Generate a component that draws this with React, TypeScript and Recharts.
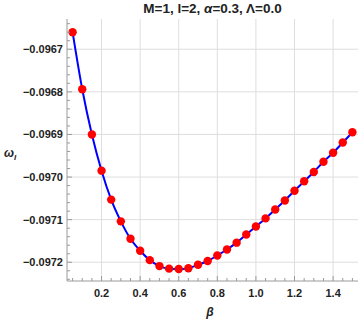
import React from "react";
import { LineChart, Line, XAxis, YAxis, ReferenceLine } from "recharts";

const beta = [0.05, 0.1, 0.15, 0.2, 0.25, 0.3, 0.35, 0.4, 0.45, 0.5, 0.55, 0.6, 0.65, 0.7, 0.75, 0.8, 0.85, 0.9, 0.95, 1.0, 1.05, 1.1, 1.15, 1.2, 1.25, 1.3, 1.35, 1.4, 1.45, 1.5];
const omegaI = [
  -0.09666, -0.096794, -0.0969, -0.096985, -0.097053, -0.097104, -0.097145, -0.097173, -0.097195, -0.097209,
  -0.097215, -0.097216, -0.097214, -0.097206, -0.097197, -0.097184, -0.09717, -0.097154, -0.097135, -0.097116,
  -0.097097, -0.097076, -0.097055, -0.097032, -0.09701, -0.096988, -0.096964, -0.096943, -0.096919, -0.096895,
];

const xMajorTicks = [0.2, 0.4, 0.6, 0.8, 1.0, 1.2, 1.4];
const xTickLabels = ["0.2", "0.4", "0.6", "0.8", "1.0", "1.2", "1.4"];
const xMinorTicks = [0.05, 0.1, 0.15, 0.25, 0.3, 0.35, 0.45, 0.5, 0.55, 0.65, 0.7, 0.75, 0.85, 0.9, 0.95, 1.05, 1.1, 1.15, 1.25, 1.3, 1.35, 1.45, 1.5];

const yMajorTicks = [-0.0967, -0.0968, -0.0969, -0.097, -0.0971, -0.0972];
const yTickLabels = ["\u22120.0967", "\u22120.0968", "\u22120.0969", "\u22120.0970", "\u22120.0971", "\u22120.0972"];
const yMinorTicks = [
  -0.09664, -0.09666, -0.09668, -0.09672, -0.09674, -0.09676, -0.09678, -0.09682, -0.09684, -0.09686, -0.09688,
  -0.09692, -0.09694, -0.09696, -0.09698, -0.09702, -0.09704, -0.09706, -0.09708, -0.09712, -0.09714, -0.09716,
  -0.09718, -0.09722, -0.09724,
];

const xDomain = [0.021, 1.529];
const yDomain = [-0.097244, -0.096629];

const data = beta.map((b, i) => ({ beta: b, w: omegaI[i] }));
const xTicksAll = [...xMinorTicks, ...xMajorTicks].sort((a, b) => a - b);
const yTicksAll = [...yMinorTicks, ...yMajorTicks].sort((a, b) => a - b);

const FRAME = "#9a9a9a";
const GRID = "#dedede";
const FONT = "'Liberation Sans', Arial, sans-serif";

const near = (a: number, b: number) => Math.abs(a - b) < 1e-9;
const xMajorIdx = (v: number) => xMajorTicks.findIndex((m) => near(m, v));
const yMajorIdx = (v: number) => yMajorTicks.findIndex((m) => near(m, v));

const BottomTick = (props: any) => {
  const { x, y, payload } = props;
  const idx = xMajorIdx(payload.value);
  const len = idx >= 0 ? 5 : 3;
  return (
    <g>
      <line x1={x} x2={x} y1={y} y2={y - len} stroke={FRAME} strokeWidth={1} />
      {idx >= 0 && (
        <text x={x} y={y + 16} textAnchor="middle" fontFamily={FONT} fontWeight="bold" fontSize={11} fill="#222">
          {xTickLabels[idx]}
        </text>
      )}
    </g>
  );
};

const TopTick = (props: any) => {
  const { x, y, payload } = props;
  const idx = xMajorIdx(payload.value);
  const len = idx >= 0 ? 5 : 3;
  return <line x1={x} x2={x} y1={y} y2={y + len} stroke={FRAME} strokeWidth={1} />;
};

const LeftTick = (props: any) => {
  const { x, y, payload } = props;
  const idx = yMajorIdx(payload.value);
  const len = idx >= 0 ? 5 : 3;
  return (
    <g>
      <line x1={x} x2={x + len} y1={y} y2={y} stroke={FRAME} strokeWidth={1} />
      {idx >= 0 && (
        <text x={x - 4} y={y + 4} textAnchor="end" fontFamily={FONT} fontWeight="bold" fontSize={11} fill="#222">
          {yTickLabels[idx]}
        </text>
      )}
    </g>
  );
};

const RightTick = (props: any) => {
  const { x, y, payload } = props;
  const idx = yMajorIdx(payload.value);
  const len = idx >= 0 ? 5 : 3;
  return <line x1={x} x2={x - len} y1={y} y2={y} stroke={FRAME} strokeWidth={1} />;
};

const RedDot = (props: any) => {
  const { cx, cy } = props;
  if (cx == null || cy == null) return null;
  return <circle cx={cx} cy={cy} r={4.2} fill="#ff0000" stroke="none" />;
};

export default function App() {
  return (
    <div style={{ position: "absolute", left: 0, top: 0, width: 360, height: 322, background: "#fff" }}>
      <LineChart width={360} height={322} data={data} margin={{ top: 19, right: 2, bottom: 0, left: 0 }}>
        {xMajorTicks.map((v) => (
          <ReferenceLine key={"gx" + v} x={v} stroke={GRID} strokeWidth={1} />
        ))}
        {yMajorTicks.map((v) => (
          <ReferenceLine key={"gy" + v} y={v} stroke={GRID} strokeWidth={1} />
        ))}
        <XAxis
          dataKey="beta"
          type="number"
          domain={xDomain}
          allowDataOverflow
          ticks={xTicksAll}
          interval={0}
          height={41}
          tickSize={0}
          tickMargin={0}
          tickLine={false}
          axisLine={{ stroke: FRAME }}
          tick={<BottomTick />}
        />
        <XAxis
          xAxisId="top"
          orientation="top"
          dataKey="beta"
          type="number"
          domain={xDomain}
          allowDataOverflow
          ticks={xTicksAll}
          interval={0}
          height={0}
          tickSize={0}
          tickMargin={0}
          tickLine={false}
          axisLine={{ stroke: FRAME }}
          tick={<TopTick />}
        />
        <YAxis
          type="number"
          domain={yDomain}
          allowDataOverflow
          ticks={yTicksAll}
          interval={0}
          width={67}
          tickSize={0}
          tickMargin={0}
          tickLine={false}
          axisLine={{ stroke: FRAME }}
          tick={<LeftTick />}
        />
        <YAxis
          yAxisId="right"
          orientation="right"
          type="number"
          domain={yDomain}
          allowDataOverflow
          ticks={yTicksAll}
          interval={0}
          width={0}
          tickSize={0}
          tickMargin={0}
          tickLine={false}
          axisLine={{ stroke: FRAME }}
          tick={<RightTick />}
        />
        <Line
          dataKey="w"
          type="monotone"
          stroke="#0000ff"
          strokeWidth={2}
          dot={<RedDot />}
          activeDot={false}
          isAnimationActive={false}
        />
      </LineChart>
      <div
        style={{
          position: "absolute",
          left: 67,
          width: 291,
          top: 1,
          textAlign: "center",
          fontFamily: FONT,
          fontWeight: "bold",
          fontSize: 13.5,
          color: "#222",
          whiteSpace: "nowrap",
        }}
      >
        M=1, l=2, <span style={{ fontStyle: "italic" }}>α</span>=0.3, Λ=0.0
      </div>
      <div
        style={{
          position: "absolute",
          left: 4,
          top: 146,
          fontFamily: FONT,
          fontWeight: "bold",
          fontStyle: "italic",
          fontSize: 12,
          color: "#222",
          whiteSpace: "nowrap",
        }}
      >
        ω<sub style={{ fontSize: 8 }}>I</sub>
      </div>
      <div
        style={{
          position: "absolute",
          left: 200,
          width: 20,
          top: 305,
          textAlign: "center",
          fontFamily: FONT,
          fontWeight: "bold",
          fontStyle: "italic",
          fontSize: 12,
          color: "#222",
        }}
      >
        β
      </div>
    </div>
  );
}
